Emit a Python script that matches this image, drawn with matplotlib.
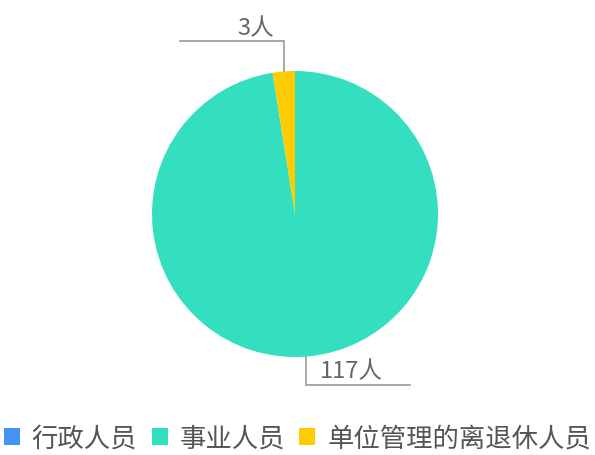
import numpy as np
import matplotlib
matplotlib.use("Agg")
import matplotlib.pyplot as plt
from matplotlib.patches import Patch

plt.rcParams['font.family'] = ['Noto Sans CJK SC', 'DejaVu Sans']

categories = ["行政人员", "事业人员", "单位管理的离退休人员"]
values = [0, 117, 3]
colors = ["#4592f5", "#33dfbe", "#ffcc00"]

W, H = 595, 456
fig = plt.figure(figsize=(W / 100, H / 100), dpi=100)
ax = fig.add_axes([0, 0, 1, 1])

cx, cy, r = 295, H - 215, 143
wedges, _ = ax.pie(values, colors=colors, startangle=90, counterclock=False,
                   center=(cx, cy), radius=r, frame=True,
                   wedgeprops=dict(linewidth=0))
ax.set_xlim(0, W)
ax.set_ylim(0, H)
ax.set_aspect("equal")
ax.axis("off")

# 标签引导线
line_c = "#999999"
for w, v in zip(wedges, values):
    if v == 0:
        continue
    mid = np.deg2rad((w.theta1 + w.theta2) / 2)
    x0 = cx + r * np.cos(mid)
    y0 = cy + r * np.sin(mid)
    up = np.sin(mid) > 0
    y1 = y0 + (30 if up else -28)
    right = np.cos(mid) > 0
    x1 = x0
    x2 = x1 + (104 if right else -104)
    ax.plot([x0, x1, x2], [y0, y1, y1], color=line_c, lw=1.2, solid_joinstyle="miter")
    if right:
        ax.text(x1 + 14, y1 + 2, f"{v}人", ha="left", va="bottom", fontsize=17, color="#666666")
    else:
        ax.text(x1 - 10, y1 + 2, f"{v}人", ha="right", va="bottom", fontsize=17, color="#666666")

handles = [Patch(facecolor=c, edgecolor="none") for c in colors]
fig.legend(handles, categories, loc="lower center", ncol=3, frameon=False,
           fontsize=19, labelcolor="#555555", handlelength=0.6, handleheight=0.6,
           handletextpad=0.45, columnspacing=0.55, bbox_to_anchor=(0.5, -0.045))

fig.savefig("out.png", dpi=100)
